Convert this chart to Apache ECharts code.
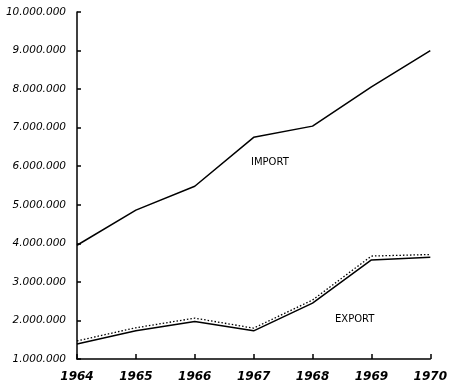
<!DOCTYPE html>
<html><head><meta charset="utf-8">
<script src="https://cdn.jsdelivr.net/npm/echarts@6/dist/echarts.min.js"></script>
<style>html,body{margin:0;padding:0;background:#fff}#c{width:450px;height:383px}</style>
</head><body><div id="c"></div>
<script>
const years = ['1964','1965','1966','1967','1968','1969','1970'];
const importVals = [3950000, 4860000, 5480000, 6750000, 7040000, 8060000, 9000000];
const exportVals = [1390000, 1730000, 1970000, 1730000, 2450000, 3570000, 3640000];
const exportDotted = [1470000, 1810000, 2060000, 1800000, 2530000, 3670000, 3710000];
const yTicks = [1000000, 10000000, 1000000];

function fmt(v){ return String(v).replace(/\B(?=(\d{3})+(?!\d))/g, '.'); }

const chart = echarts.init(document.getElementById('c'));
const font = 'DejaVu Sans';
chart.setOption({
  animation: false,
  backgroundColor: '#fff',
  grid: {left: 77, right: 14, top: 12, bottom: 24},
  xAxis: {
    type: 'category', data: years, boundaryGap: false,
    axisLine: {lineStyle: {color: '#000', width: 1.5}},
    axisTick: {inside: true, length: 5, lineStyle: {color: '#000', width: 1.5}},
    axisLabel: {color: '#000', fontFamily: font, fontStyle: 'italic', fontWeight: 'bold', fontSize: 12, margin: 12}
  },
  yAxis: {
    type: 'value', min: yTicks[0], max: yTicks[1], interval: yTicks[2],
    axisLine: {show: true, lineStyle: {color: '#000', width: 1.5}},
    axisTick: {show: true, inside: true, length: 4, lineStyle: {color: '#000', width: 1.5}},
    splitLine: {show: false},
    axisLabel: {color: '#000', fontFamily: font, fontStyle: 'italic', fontSize: 10.5, margin: 11, formatter: fmt}
  },
  series: [
    {type: 'line', data: importVals, symbol: 'none', lineStyle: {color: '#000', width: 1.5}},
    {type: 'line', data: exportDotted, symbol: 'none', lineStyle: {color: '#000', width: 1.3, type: [1.5, 2]}},
    {type: 'line', data: exportVals, symbol: 'none', lineStyle: {color: '#000', width: 1.5}}
  ],
  graphic: [
    {type: 'text', left: 251, top: 157, style: {text: 'IMPORT', fill: '#000', font: '10px "DejaVu Sans"'}},
    {type: 'text', left: 335, top: 314, style: {text: 'EXPORT', fill: '#000', font: '10px "DejaVu Sans"'}}
  ]
});
</script></body></html>
